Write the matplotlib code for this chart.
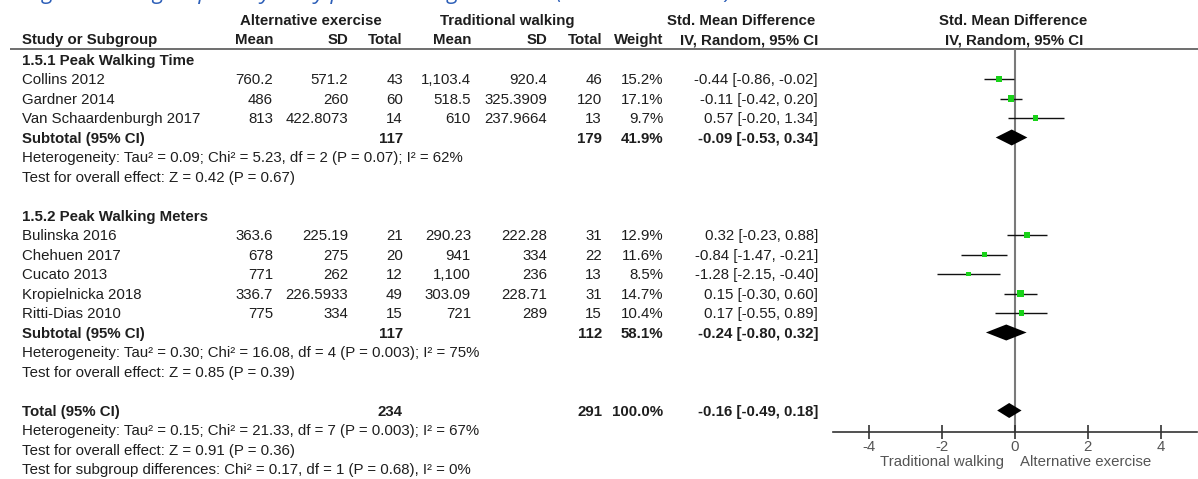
import matplotlib
matplotlib.use('Agg')
import matplotlib.pyplot as plt

plt.rcParams['font.family'] = ['Liberation Sans', 'DejaVu Sans']
plt.rcParams['axes.unicode_minus'] = False

# Study data (two subgroups)
group_titles = ['1.5.1 Peak Walking Time', '1.5.2 Peak Walking Meters']
study_group = [0, 0, 0, 1, 1, 1, 1, 1]
studies = ['Collins 2012', 'Gardner 2014', 'Van Schaardenburgh 2017',
           'Bulinska 2016', 'Chehuen 2017', 'Cucato 2013', 'Kropielnicka 2018', 'Ritti-Dias 2010']
alt_mean = [760.2, 486, 813, 363.6, 678, 771, 336.7, 775]
alt_sd = [571.2, 260, 422.8073, 225.19, 275, 262, 226.5933, 334]
alt_n = [43, 60, 14, 21, 20, 12, 49, 15]
trad_mean = [1103.4, 518.5, 610, 290.23, 941, 1100, 303.09, 721]
trad_sd = [920.4, 325.3909, 237.9664, 222.28, 334, 236, 228.71, 289]
trad_n = [46, 120, 13, 31, 22, 13, 31, 15]
weight = [15.2, 17.1, 9.7, 12.9, 11.6, 8.5, 14.7, 10.4]
smd = [-0.44, -0.11, 0.57, 0.32, -0.84, -1.28, 0.15, 0.17]
ci_lo = [-0.86, -0.42, -0.20, -0.23, -1.47, -2.15, -0.30, -0.55]
ci_hi = [-0.02, 0.20, 1.34, 0.88, -0.21, -0.40, 0.60, 0.89]

# Subgroup pooled results
sub_alt_n = [117, 117]
sub_trad_n = [179, 112]
sub_weight = [41.9, 58.1]
sub_smd = [-0.09, -0.24]
sub_lo = [-0.53, -0.80]
sub_hi = [0.34, 0.32]
sub_het = ['Heterogeneity: Tau\u00b2 = 0.09; Chi\u00b2 = 5.23, df = 2 (P = 0.07); I\u00b2 = 62%',
           'Heterogeneity: Tau\u00b2 = 0.30; Chi\u00b2 = 16.08, df = 4 (P = 0.003); I\u00b2 = 75%']
sub_effect = ['Test for overall effect: Z = 0.42 (P = 0.67)',
              'Test for overall effect: Z = 0.85 (P = 0.39)']

# Overall pooled result
total_alt_n = 234
total_trad_n = 291
total_weight = 100.0
total_smd = -0.16
total_lo = -0.49
total_hi = 0.18
total_notes = ['Heterogeneity: Tau\u00b2 = 0.15; Chi\u00b2 = 21.33, df = 7 (P = 0.003); I\u00b2 = 67%',
               'Test for overall effect: Z = 0.91 (P = 0.36)',
               'Test for subgroup differences: Chi\u00b2 = 0.17, df = 1 (P = 0.68), I\u00b2 = 0%']

xticks = [-4, -2, 0, 2, 4]
favours = ['Traditional walking', 'Alternative exercise']
caption = 'Figure 3. Subgroup analysis by peak walking outcome (time vs. distance)'

W, H = 1198, 479
fig = plt.figure(figsize=(W / 100, H / 100), dpi=100)
fig.patch.set_facecolor('white')

# full-figure axes in pixel units for the table text
ax_t = fig.add_axes([0, 0, 1, 1])
ax_t.set_xlim(0, W)
ax_t.set_ylim(H, 0)
ax_t.axis('off')

# forest plot axes, sharing the pixel rows
x0, x1 = 833, 1197
ax = fig.add_axes([x0 / W, 0, (x1 - x0) / W, 1])
ax.set_xlim(-5, 5)
ax.set_ylim(H, 0)
ax.patch.set_visible(False)

FS = 10.8
TXT = '#1e1e1e'
GREY = '#555555'

def row_y(i):
    return 59.5 + 19.5 * i

def put(x, y, s, ha='right', bold=False, color=TXT):
    ax_t.text(x, y + 5.3, s, ha=ha, va='baseline', fontsize=FS,
              fontweight='bold' if bold else 'normal', color=color)

def fmt(v):
    return f'{v:,}'

def ci_text(m, lo, hi):
    return f'{m:.2f} [{lo:.2f}, {hi:.2f}]'

# column right edges
c_name = 22
c_am, c_asd, c_an = 273, 348, 403
c_tm, c_tsd, c_tn = 471, 547, 602
c_w, c_ci = 663, 818

# caption sits above the top edge, only its descenders show
ax_t.text(26, -1.5, caption, ha='left', va='baseline', fontsize=16, style='italic',
          color='#2d5fb8', family=['Open Sans', 'DejaVu Sans'])

# headers
gy, hy = 20, 39
put(311, gy, 'Alternative exercise', ha='center', bold=True)
put(507, gy, 'Traditional walking', ha='center', bold=True)
put(815, gy, 'Std. Mean Difference', bold=True)
put(1013, gy, 'Std. Mean Difference', ha='center', bold=True)
put(c_name, hy, 'Study or Subgroup', ha='left', bold=True)
put(c_am, hy, 'Mean', bold=True)
put(c_asd, hy, 'SD', bold=True)
put(c_an, hy, 'Total', bold=True)
put(c_tm, hy, 'Mean', bold=True)
put(c_tsd, hy, 'SD', bold=True)
put(c_tn, hy, 'Total', bold=True)
put(c_w, hy, 'Weight', bold=True)
put(c_ci, hy, 'IV, Random, 95% CI', bold=True)
put(1014, hy, 'IV, Random, 95% CI', ha='center', bold=True)
ax_t.plot([10, W], [49, 49], color='#6e6e6e', lw=1.4, solid_capstyle='butt')

# table rows and forest marks
axis_y = 432
row = 0
for g in range(2):
    put(c_name, row_y(row), group_titles[g], ha='left', bold=True)
    row += 1
    idx = [k for k in range(len(studies)) if study_group[k] == g]
    ys = []
    for k in idx:
        y = row_y(row)
        ys.append(y)
        put(c_name, y, studies[k], ha='left')
        put(c_am, y, fmt(alt_mean[k]))
        put(c_asd, y, fmt(alt_sd[k]))
        put(c_an, y, str(alt_n[k]))
        put(c_tm, y, fmt(trad_mean[k]))
        put(c_tsd, y, fmt(trad_sd[k]))
        put(c_tn, y, str(trad_n[k]))
        put(c_w, y, f'{weight[k]:.1f}%')
        put(c_ci, y, ci_text(smd[k], ci_lo[k], ci_hi[k]))
        row += 1
    ax.hlines(ys, [ci_lo[k] for k in idx], [ci_hi[k] for k in idx], color='#111111', lw=1.0, zorder=2)
    ax.scatter([smd[k] for k in idx], ys, s=[1.4 * weight[k] for k in idx], marker='s',
               color='#19d219', edgecolors='none', zorder=3)

    y = row_y(row)
    put(c_name, y, 'Subtotal (95% CI)', ha='left', bold=True)
    put(c_an, y, str(sub_alt_n[g]), bold=True)
    put(c_tn, y, str(sub_trad_n[g]), bold=True)
    put(c_w, y, f'{sub_weight[g]:.1f}%', bold=True)
    put(c_ci, y, ci_text(sub_smd[g], sub_lo[g], sub_hi[g]), bold=True)
    ax.fill([sub_lo[g], sub_smd[g], sub_hi[g], sub_smd[g]], [y, y - 8, y, y + 8],
            color='black', lw=0, zorder=3)
    row += 1
    put(c_name, row_y(row), sub_het[g], ha='left')
    row += 1
    put(c_name, row_y(row), sub_effect[g], ha='left')
    row += 2

y = row_y(row)
put(c_name, y, 'Total (95% CI)', ha='left', bold=True)
put(c_an, y, str(total_alt_n), bold=True)
put(c_tn, y, str(total_trad_n), bold=True)
put(c_w, y, f'{total_weight:.1f}%', bold=True)
put(c_ci, y, ci_text(total_smd, total_lo, total_hi), bold=True)
ax.fill([total_lo, total_smd, total_hi, total_smd], [y, y - 7.5, y, y + 7.5],
        color='black', lw=0, zorder=3)
for note in total_notes:
    row += 1
    put(c_name, row_y(row), note, ha='left')

# zero line and x axis
ax.vlines(0, 49, axis_y, color='#7a7a7a', lw=1.5, zorder=1)
for side in ['top', 'left', 'right']:
    ax.spines[side].set_visible(False)
ax.spines['bottom'].set_position(('data', axis_y))
ax.spines['bottom'].set_color('#333333')
ax.spines['bottom'].set_linewidth(1.2)
ax.set_yticks([])
ax.set_xticks(xticks)
ax.set_xticklabels([str(t) for t in xticks])
ax.tick_params(axis='x', direction='inout', length=10, width=1.2, color='#333333',
               labelcolor=GREY, labelsize=FS, pad=0.5)

ax_t.text(1004, 462, favours[0], ha='right', va='center', fontsize=FS, color=GREY)
ax_t.text(1020, 462, favours[1], ha='left', va='center', fontsize=FS, color=GREY)

fig.savefig('out.png', dpi=100, facecolor='white')
